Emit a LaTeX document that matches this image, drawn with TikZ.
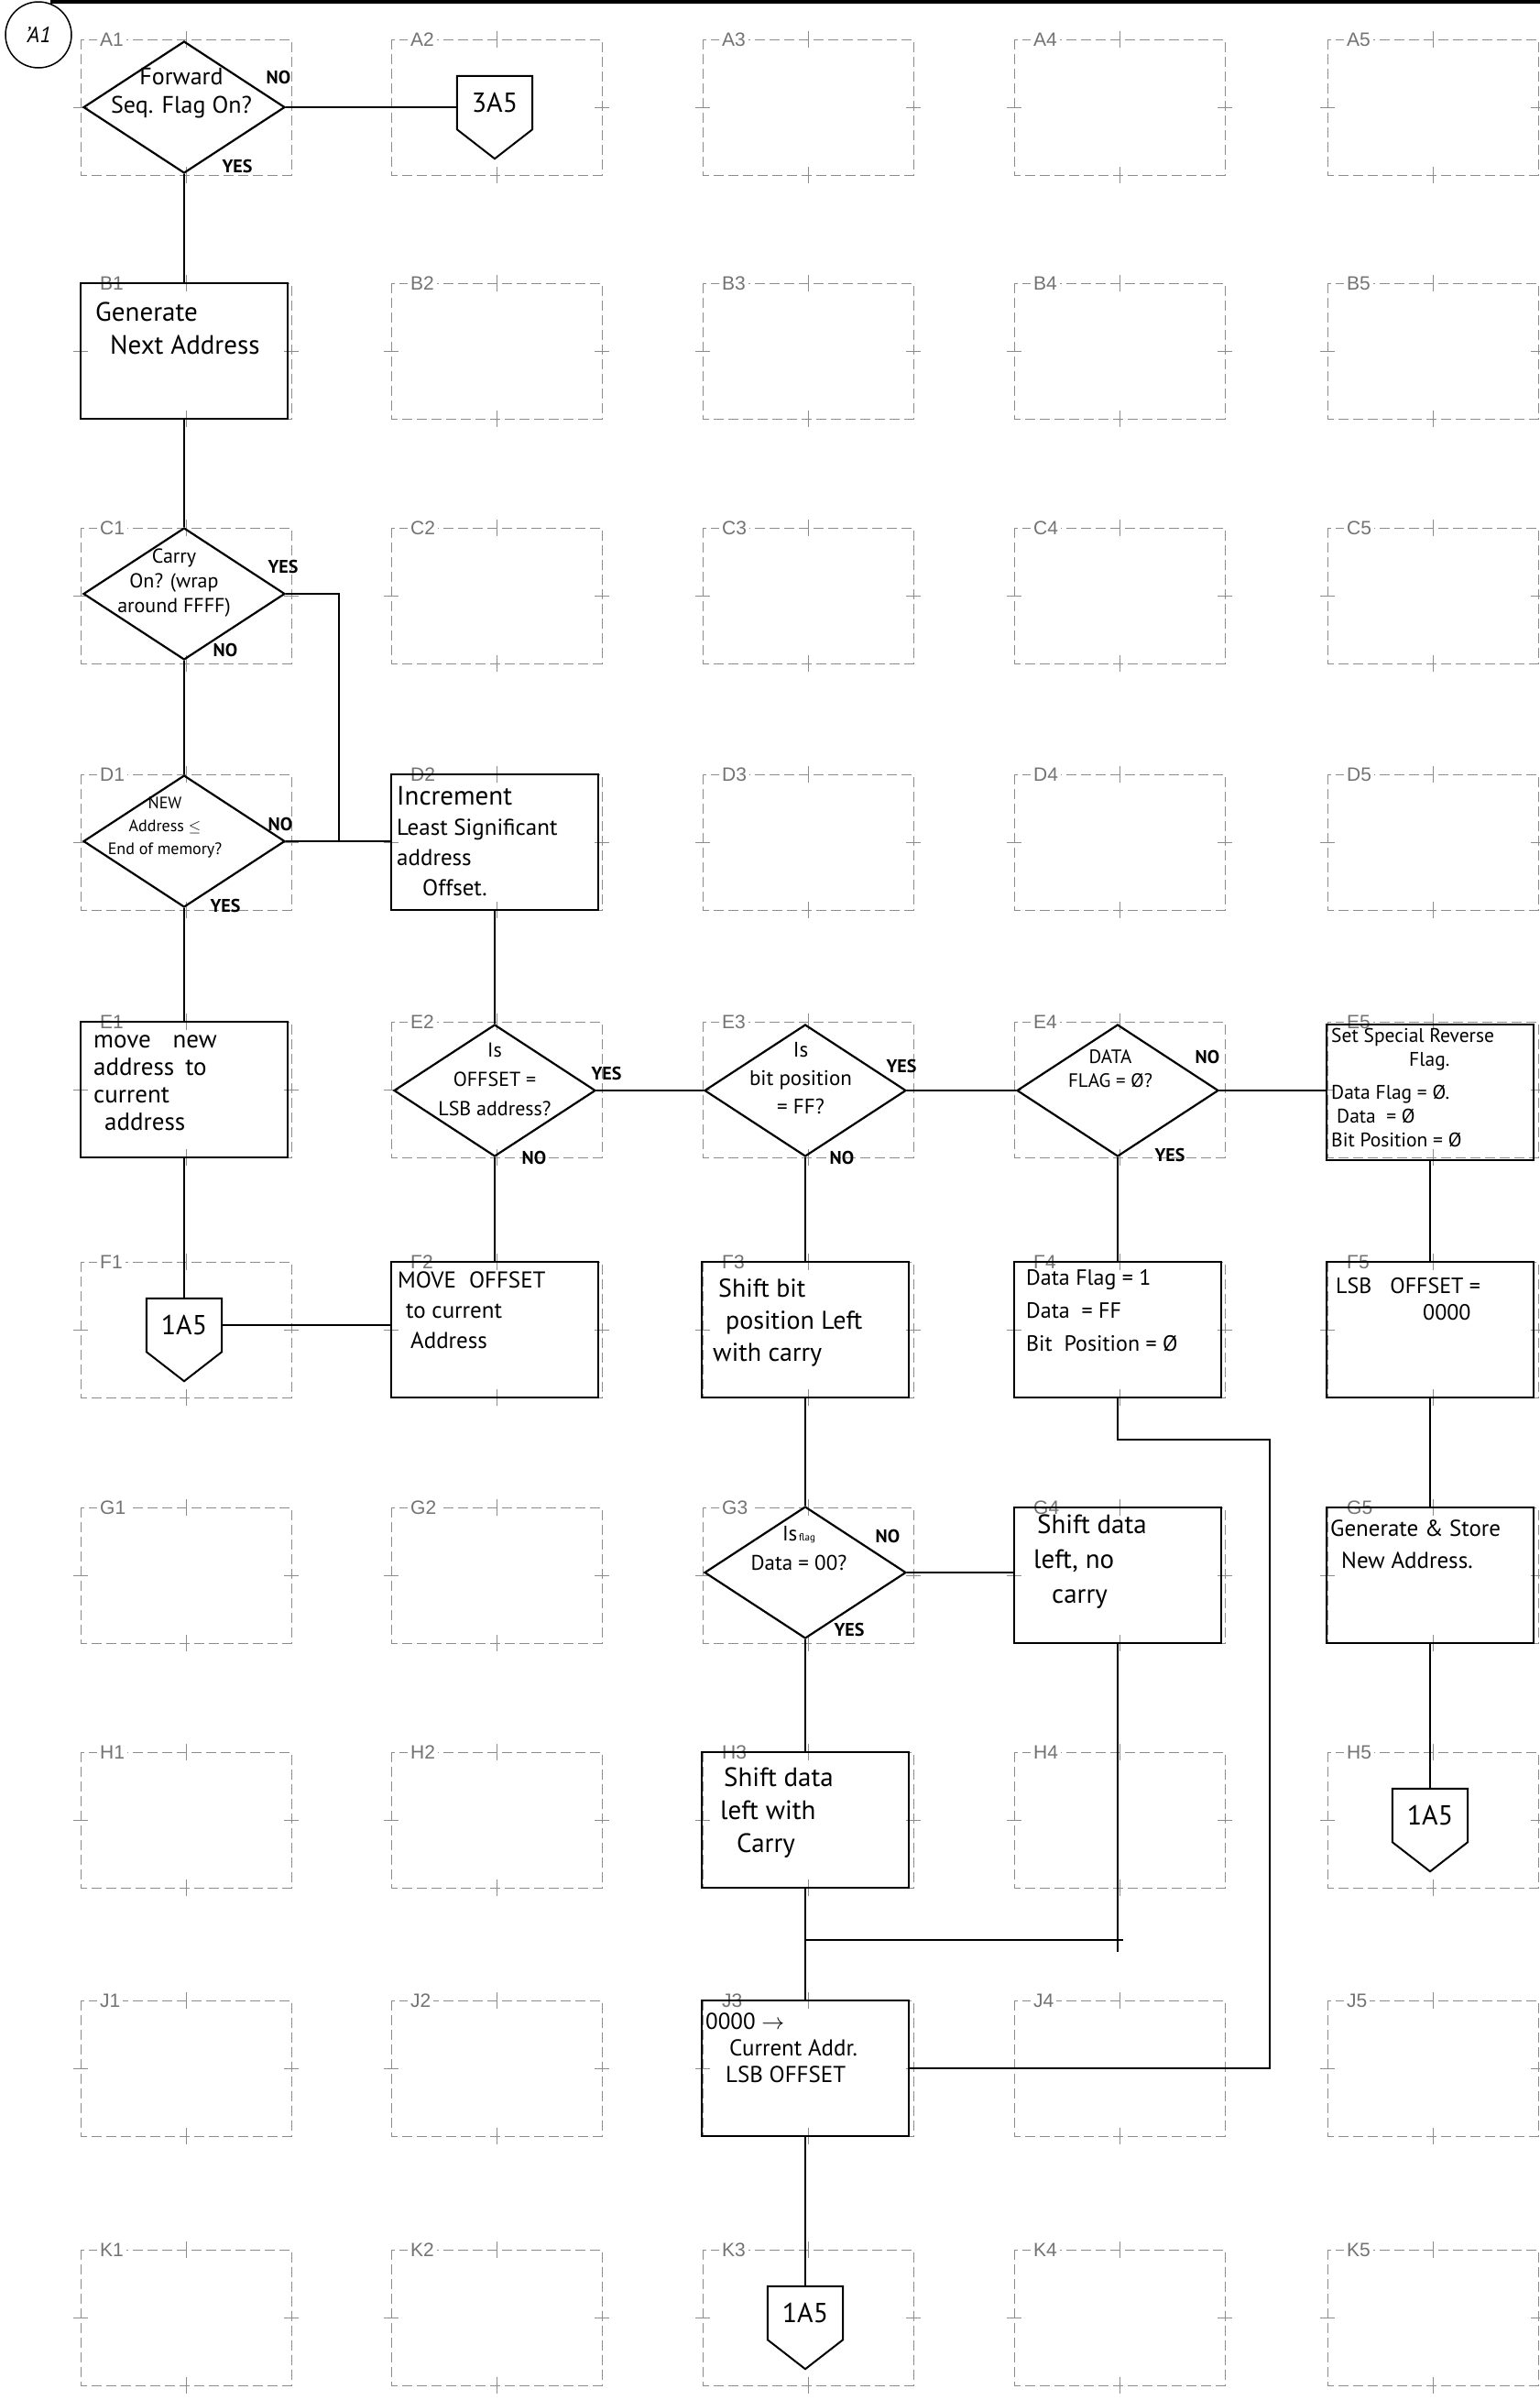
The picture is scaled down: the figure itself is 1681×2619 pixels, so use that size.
\documentclass[tikz,border=0pt]{standalone}
\usepackage{fontspec}
\setmainfont{PT Sans}
\newfontfamily\gridfont{Liberation Sans}
\usetikzlibrary{shapes.geometric}
\newcommand\fs[2]{\fontsize{#1}{#2}\selectfont}
\newcommand\offpage[1]{\draw[pent] (#1.south west) -- (#1.north west) -- (#1.north east) -- (#1.south east) -- ([yshift=-32pt]#1.south) -- cycle;}
\begin{document}
\begin{tikzpicture}[x=1pt,y=-1pt,
  frm/.style={draw=black!45,line width=0.9pt,dash pattern=on 11pt off 5pt},
  tck/.style={draw=black!45,line width=0.9pt},
  flab/.style={font=\gridfont\fs{21}{21},text=black!55,fill=white,inner sep=3pt,anchor=west},
  proc/.style={draw,line width=2.8pt,minimum width=226pt,minimum height=148pt,inner sep=0pt},
  dec/.style={draw,diamond,line width=2.2pt,minimum width=220pt,minimum height=144pt,inner sep=0pt},
  conn/.style={minimum width=82pt,minimum height=58pt,inner sep=0pt,font=\fs{30}{30}},
  pent/.style={line width=2pt,line join=miter},
  wire/.style={line width=2.2pt},
  thn/.style={line width=1.3pt},
  hw/.style={inner sep=0pt,align=left,anchor=north west},
  hc/.style={inner sep=0pt,align=center,anchor=center},
  yn/.style={inner sep=0pt,font=\bfseries\fs{20}{20}}
]
\useasboundingbox (0,0) rectangle (1681,2619);
\fill[white] (0,0) rectangle (1681,2619);

% top border line and reference circle
\coordinate (tl) at (55,2);
\coordinate (tr) at (1681,2);
\draw[line width=4pt] (tl) -- (tr);
\node[draw,circle,line width=1.5pt,minimum size=72pt,inner sep=0pt,font=\itshape\fs{24}{24}] (ref) at (42,38) {'A1};

% grid of dashed frames
\foreach \r/\y in {A/43,B/309,C/576,D/845,E/1115,F/1377,G/1645,H/1912,J/2183,K/2455}{
  \foreach \c/\x in {1/88,2/427,3/767,4/1107,5/1449}{
    \draw[frm] (\x,\y) rectangle ++(230,148);
    \draw[tck] (\x+115,\y-9) -- ++(0,18)  (\x+115,\y+139) -- ++(0,18)
               (\x-8,\y+74) -- ++(16,0)  (\x+222,\y+74) -- ++(16,0);
    \node[flab] (l\r\c) at (\x+18,\y) {\r\c};
  }
}

% shapes
\node[dec] (A1) at (201,117) {};
\node[conn] (A2p) at (540,112) {3A5}; \offpage{A2p}
\node[proc] (B1) at (201,383) {};
\node[dec] (C1) at (201,648) {};
\node[dec] (D1) at (201,918) {};
\node[proc] (D2) at (540,919) {};
\node[proc] (E1) at (201,1189) {};
\node[dec] (E2) at (540,1190) {};
\node[dec] (E3) at (879,1190) {};
\node[dec] (E4) at (1220,1190) {};
\node[proc] (E5) at (1561,1192) {};
\node[conn] (F1p) at (201,1446) {1A5}; \offpage{F1p}
\node[proc] (F2) at (540,1451) {};
\node[proc] (F3) at (879,1451) {};
\node[proc] (F4) at (1220,1451) {};
\node[proc] (F5) at (1561,1451) {};
\node[dec] (G3) at (879,1716) {};
\node[proc] (G4) at (1220,1719) {};
\node[proc] (G5) at (1561,1719) {};
\node[proc] (H3) at (879,1986) {};
\node[conn] (H5p) at (1561,1981) {1A5}; \offpage{H5p}
\node[proc] (J3) at (879,2257) {};
\node[conn] (K3p) at (879,2524) {1A5}; \offpage{K3p}

% texts
\node[hc,font=\fs{26}{31}] (A1t) at (198,102) {Forward\\Seq. Flag On?};
\node[hw,font=\fs{29}{36}] (B1t) at (104,330) {Generate\\\hspace*{16pt}Next Address};
\node[hc,font=\fs{22}{27}] (C1t) at (190,636) {Carry\\On? (wrap\\around FFFF)};
\node[hc,font=\fs{18}{25}] (D1t) at (180,903) {NEW\\Address $\leq$\\End of memory?};
\node[hw,font=\fs{25}{33}] (D2t) at (433,858) {{\fs{29}{33}Increment}\\Least Significant\\address\\\hspace*{28pt}Offset.};
\node[hw,font=\fs{27}{30}] (E1t) at (102,1129) {move\hspace{24pt}new\\address\hspace{12pt}to\\current\\\hspace*{12pt}address};
\node[hc,font=\fs{22}{32}] (E2t) at (540,1178) {Is\\OFFSET =\\LSB address?};
\node[hc,font=\fs{23}{31}] (E3t) at (874,1177) {Is\\bit position\\= FF?};
\node[hc,font=\fs{21}{26}] (E4t) at (1212,1166) {DATA\\FLAG = Ø?};
\node[hw,font=\fs{21.5}{26}] (E5t) at (1453,1122) {Set Special Reverse\\\hspace*{85pt}Flag.\\[10pt]Data Flag = Ø.\\\hspace*{6pt}Data\ \ = Ø\\Bit Position = Ø};
\node[hw,font=\fs{25}{33}] (F2t) at (434,1387) {MOVE\hspace{14pt}OFFSET\\\hspace*{9pt}to current\\\hspace*{14pt}Address};
\node[hw,font=\fs{28}{35}] (F3t) at (778,1395) {\hspace*{6pt}Shift bit\\\hspace*{14pt}position Left\\with carry};
\node[hw,font=\fs{24}{36}] (F4t) at (1120,1385) {Data Flag = 1\\Data\ \ = FF\\Bit\ \ Position\ = Ø};
\node[hw,font=\fs{24}{29}] (F5t) at (1458,1394) {LSB\hspace{20pt}OFFSET =\\\hspace*{95pt}0000};
\node[hc,font=\fs{23}{32}] (G3t) at (872,1690) {Is{\fs{11}{11}\,flag}\\Data = 00?};
\node[hw,font=\fs{29}{38}] (G4t) at (1128,1653) {\hspace*{4pt}Shift data\\left, no\\\hspace*{20pt}carry};
\node[hw,font=\fs{25}{35}] (G5t) at (1452,1658) {Generate \& Store\\\hspace*{12pt}New Address.};
\node[hw,font=\fs{29}{36}] (H3t) at (786,1929) {\hspace*{4pt}Shift data\\left with\\\hspace*{18pt}Carry};
\node[hw,font=\fs{25}{29}] (J3t) at (770,2196) {0000 $\rightarrow$\\\hspace*{26pt}Current Addr.\\\hspace*{22pt}LSB OFFSET};

% yes / no labels
\node[yn] (A1n) at (304,84) {NO};
\node[yn] (A1y) at (259,181) {YES};
\node[yn] (C1y) at (309,618) {YES};
\node[yn] (C1n) at (246,709) {NO};
\node[yn] (D1n) at (306,899) {NO};
\node[yn] (D1y) at (246,988) {YES};
\node[yn] (E2y) at (662,1171) {YES};
\node[yn] (E2n) at (583,1263) {NO};
\node[yn] (E3y) at (984,1163) {YES};
\node[yn] (E3n) at (919,1263) {NO};
\node[yn] (E4n) at (1318,1153) {NO};
\node[yn] (E4y) at (1277,1260) {YES};
\node[yn] (G3n) at (969,1676) {NO};
\node[yn] (G3y) at (927,1778) {YES};

% connectors
\draw[wire] (A1.south) -- (A1.south |- B1.north);
\draw[wire] (A1.east) -- (A1.east -| A2p.west);
\draw[wire] (B1.south) -- (B1.south |- C1.north);
\draw[wire] (C1.south) -- (D1.north);
\coordinate (cj) at (370,918);
\draw[wire] (C1.east) -| (cj);
\draw[wire] (D1.east) -- (D1.east -| D2.west);
\draw[wire] (D1.south) -- (D1.south |- E1.north);
\draw[wire] (E1.south) -- (F1p.north);
\draw[wire] (F1p.east) -- (F1p.east -| F2.west);
\draw[wire] (D2.south) -- (E2.north);
\draw[wire] (E2.east) -- (E3.west);
\draw[wire] (E3.east) -- (E4.west);
\draw[wire] (E4.east) -- (E4.east -| E5.west);
\draw[wire] (E2.south) -- (F2.north);
\draw[wire] (E3.south) -- (F3.north);
\draw[wire] (E4.south) -- (F4.north);
\draw[wire] (E5.south) -- (F5.north);
\draw[wire] (F5.south) -- (G5.north);
\draw[thn] (G5.south) -- (H5p.north);
\draw[wire] (F3.south) -- (G3.north);
\draw[wire] (G3.east) -- (G3.east -| G4.west);
\draw[thn] (G3.south) -- (H3.north);
\draw[thn] (H3.south) -- (J3.north);
\draw[thn] (J3.south) -- (K3p.north);
\coordinate (g4b) at (1220,2130);
\draw[wire] (G4.south) -- (g4b);
\coordinate (mj) at (879,2117);
\coordinate (mje) at (1226,2117);
\draw[wire] (mj) -- (mje);
\coordinate (f4a) at (1220,1571);
\coordinate (f4b) at (1386,1571);
\coordinate (f4c) at (1386,2257);
\draw[wire] (F4.south) -- (f4a) -- (f4b) -- (f4c) -- (J3.east);
\end{tikzpicture}
\end{document}
